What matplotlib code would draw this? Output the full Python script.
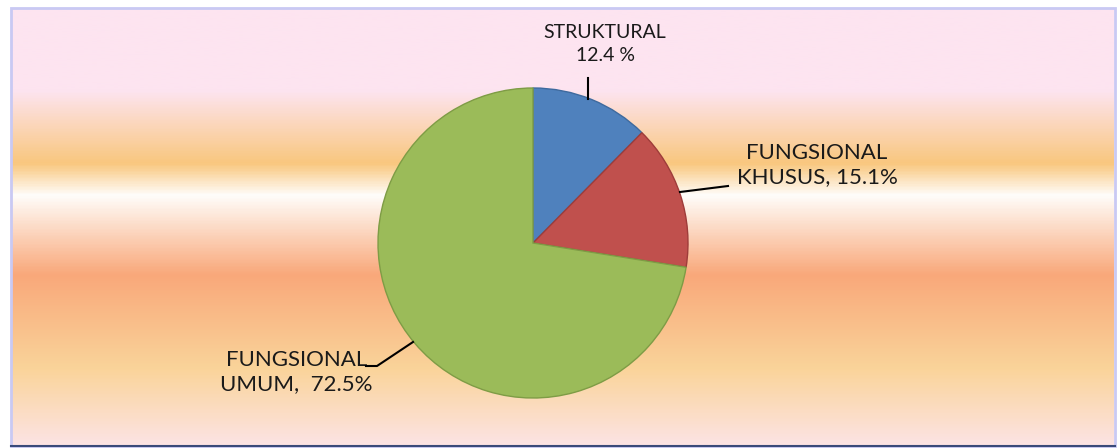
import numpy as np
import matplotlib
matplotlib.use("Agg")
import matplotlib.pyplot as plt
from matplotlib.colors import LinearSegmentedColormap

categories = ["STRUKTURAL", "FUNGSIONAL KHUSUS", "FUNGSIONAL UMUM"]
values = [12.4, 15.1, 72.5]
label_texts = ["STRUKTURAL\n12.4 %", "FUNGSIONAL\nKHUSUS, 15.1%", "FUNGSIONAL\nUMUM,  72.5%"]
colors = ["#4F81BD", "#C0504D", "#9BBB59"]
edges = ["#3E6A9E", "#9E3C3A", "#7E9C45"]

W, H = 1117, 448
fig = plt.figure(figsize=(W / 100, H / 100), dpi=100)
fig.patch.set_facecolor("white")
ax = fig.add_axes([0, 0, 1, 1])
ax.set_xlim(0, W)
ax.set_ylim(0, H)
ax.set_aspect("equal")
ax.axis("off")

# background gradient (rows from top, pixel positions)
stops_y = [8, 90, 163, 195, 275, 370, 445]
stops_c = ["#FDE4F0", "#FDE4F0", "#F9C77E", "#FFFDFA", "#F9A87A", "#FAD49A", "#FCE3E3"]
top, bot = 8, 445
pos = [(s - top) / (bot - top) for s in stops_y]
cmap = LinearSegmentedColormap.from_list("bg", list(zip(pos, stops_c)))
grad = np.linspace(0, 1, 400).reshape(-1, 1)
ax.imshow(grad, cmap=cmap, aspect="auto", extent=(11, 1114, H - bot, H - top),
          origin="upper", zorder=0, interpolation="bilinear")
# frame
ax.add_patch(plt.Rectangle((10.5, H - 446), 1104, 438, fill=False,
                           edgecolor="#C9C9F3", lw=2, zorder=1))
ax.plot([11, 1115], [H - 446, H - 446], color="#3A4A7A", lw=1.5, zorder=1)

cx, cy, r = 533, H - 243, 155
wedges, _ = ax.pie(values, colors=colors, startangle=90, counterclock=False,
                   center=(cx, cy), radius=r, frame=True,
                   wedgeprops=dict(linewidth=1))
for w, e in zip(wedges, edges):
    w.set_edgecolor(e)
    w.set_zorder(2)
ax.set_xlim(0, W)
ax.set_ylim(0, H)
ax.axis("off")

font = "Lato"
ax.text(605, H - 44, label_texts[0], ha="center", va="center", fontsize=14,
        family=font, color="#1a1a1a", linespacing=1.45, zorder=3)
ax.plot([588, 588], [H - 78, H - 99], color="black", lw=1.5, zorder=3)

ax.text(817, H - 165, label_texts[1], ha="center", va="center", fontsize=16,
        family=font, color="#1a1a1a", linespacing=1.3, zorder=3)
ax.plot([680, 728], [H - 192, H - 186], color="black", lw=1.5, zorder=3)

ax.text(373, H - 372, label_texts[2], ha="right", va="center", fontsize=16,
        family=font, color="#1a1a1a", linespacing=1.3, zorder=3, multialignment="center")
ax.plot([366, 377, 413], [H - 366, H - 366, H - 342], color="black", lw=1.5, zorder=3)

fig.savefig("out.png", dpi=100)
